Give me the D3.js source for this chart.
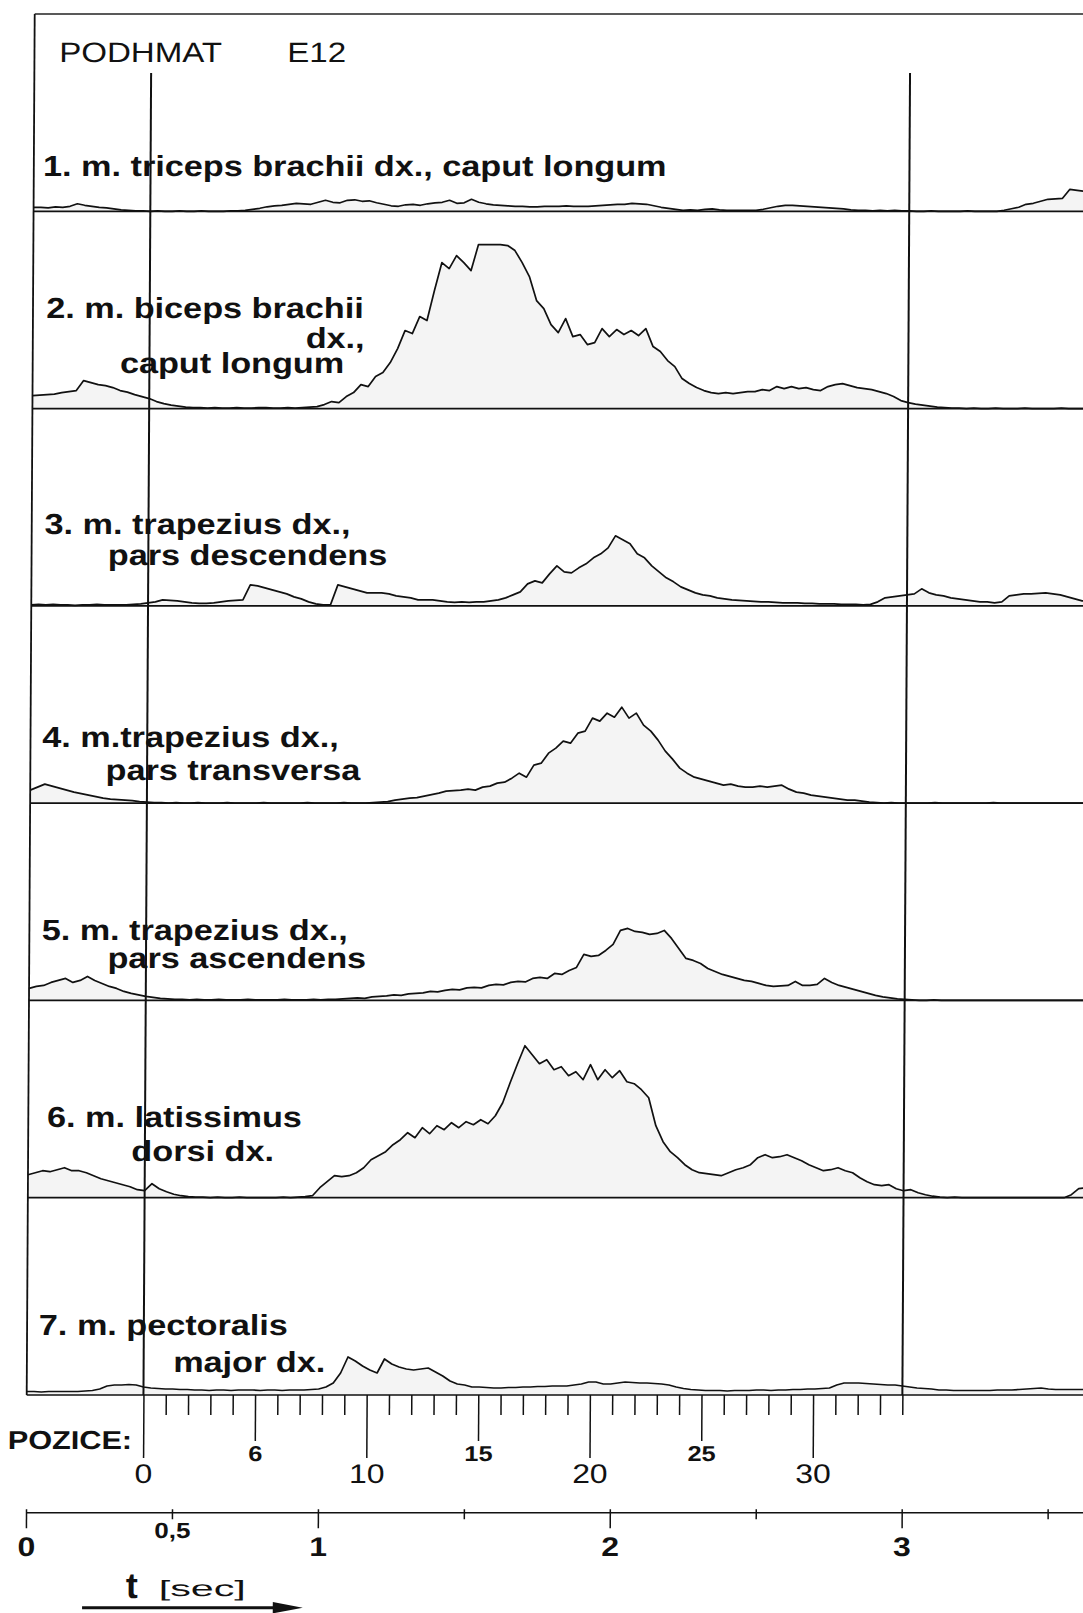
<!DOCTYPE html>
<html>
<head>
<meta charset="utf-8">
<script src="https://d3js.org/d3.v7.min.js"></script>
<style>
body { margin: 0; background: #fff; }
svg { display: block; background: #fff; }
text { font-family: "Liberation Sans", Arial, sans-serif; fill: #111; }
</style>
</head>
<body>
<div id="chart"></div>
<script>

// EMG envelopes, one value every 0.025 s starting at t = 0 (amplitude, a.u.)
var dt = 0.025;

var triceps = [4,4,3.5,4.5,4,5,7.5,6,5,4,3.5,2.5,1.5,1,0.5,0.5,
  0,0.5,0,0,0.5,0,0,0.5,0,0,0,0.5,0.5,
  1,2,3,4.5,5.5,6,7,8,7.5,7,9,11,
  9,8.5,11,11.5,10,10.5,8.5,7,5.5,5,6.5,7,6,7.5,8.5,9,11,8,8.5,12,
  9,7.5,6.5,6,5.5,5,5,4.5,4.5,5,5,5,5.5,5,5,5,5.5,6,6.5,7,
  7,8,7.5,7,5.5,4,3,2,1,1.5,1,2,2.5,1.5,1,1,1,1,1,2,
  3.5,5,6,6,5.5,5,4.5,4,3.5,3,2.5,1.5,1,1,0.5,1,0.5,1,0.5,0.5,
  0,0,0.5,0,0,0,0,0.5,0,0,0,0,
  1,2.5,4,7,8,10,12,12.5,13,22,21,20,20];

var biceps = [13,13.5,14,14.5,16,17,18,28,26,24,23,21,18,16.5,14,12,10,7,5,3.5,2.5,1.5,1,
  1,0.5,1,0.5,0.5,1,0.5,0.5,1,1,0.5,0.5,1,0.5,1,1.5,2,
  4,7,6,12,16,24,22,32,36,46,60,78,75,92,88,118,146,140,153,146,138,
  164,164,164,164,163,158,146,132,108,100,84,76,90,72,74,64,66,80,72,79,
  74,78,73,80,62,57,48,42,30,25,21,18,16,15,16,15,16,17,17,19,
  18,22,20,22,20,21,19,18,22,24,25,23,21,20,19,17,15,12,8,6,4.5,3.5,2.5,1.5,1,
  0.5,0.5,0,0.5,0,0,0.5,0,0,0,0.5,0,0,0,0,0.5,0,0,0,0];

var trapDesc = [1,1.5,1,1.5,1,1,0.5,1,1,1.5,1,1,1,1,1.5,2,3,4,6,5.5,5,4,3,2.5,2.5,3,4,5,5.5,6,
  21,20,18,16,14,12,9,7,4,2,1,1,
  21,19,17,15,13,13,13,12,10,9,8,6,6,6,5,4,3.5,4,3.5,4,4,5,
  6,8,11,14,22,25,23,32,40,34,33,38,42,48,52,58,70,66,62,52,48,40,34,28,24,19,16,
  13,11,10,8,7,6,5.5,5,4.5,4,4,3.5,3,3,3,2.5,2.5,2,2,2,1.5,1.5,1.5,1,1.5,
  4,8,9,10,11,12,17,13,11,10,8,7,6,5,4,4,3,4,10,11,12,12,12.5,13,12,11,9,7,5,4];

var trapTrans = [13,16,19,17,15,13,11,9.5,8,6.5,5,4,3.5,3,2.5,1.5,1,
  0.5,0.5,0,0.5,0,0,0.5,0,0,0,0.5,0,0,0,0,0.5,0,0,0,0,0,0.5,0,0,0,0,0.5,0,0,0,0.5,1,1.5,
  3,4,5,5.5,7,8.5,10,12,12.5,13,14,13,16,17,20,21,25,30,26,38,40,50,55,62,60,70,72,85,82,90,86,96,
  85,90,78,72,63,52,44,35,30,26,24,22,20,18,19,17,16,16,17,16,17,18,14,11,10,8,7,6,5,4,3,3,2,1,
  0.5,0,0.5,0,0,0,0,0,0.5,0,0,0,0,0,0,0,0.5,0,0,0,0,0,0,0,0,0,0,0,0,0];

var trapAsc = [12,14,15,18,20,22,18,20,24,20,17,14,12,9,7,5.5,4,3,2,1.5,1,
  1,0.5,1,0.5,0.5,1,0.5,0.5,0.5,1,0.5,0.5,0.5,0.5,1,0.5,0.5,0.5,1,0.5,1,1,
  1.5,2,2.5,2,3.5,4,4.5,5.5,5,6.5,7,7.5,9,8.5,10,11,10.5,12.5,13,12.5,15,16,15.5,18,19,18.5,22,23,22,27,26,30,33,
  46,44,45,50,56,70,72,69,68,66,67,70,62,52,42,40,37,32,29,26,24,22,20,19,17,15,14,14.5,15,
  19,15,15,16,22,18,15,13,11,9,7,5,3.5,2.5,1.5,1,
  0.5,0,0,0.5,0,0,0,0,0,0,0,0,0,0,0,0,0,0,0,0,0,0,0,0,0];

var latissimus = [23,25,27,26,28,30,27,27,25,22,19,17,15,13,11,8,7,14,9,6,3.5,2,1,
  0.5,0.5,0,0.5,0,0,0.5,0,0,0,0,0,0.5,0,0.5,1,
  2,10,16,22,21,22,25,30,38,42,46,53,58,65,60,70,64,72,68,75,70,76,73,78,74,82,95,115,134,152,
  143,134,138,128,131,122,126,118,133,118,128,120,127,116,114,108,100,
  72,56,46,40,33,28,25,24,23,22,25,28,30,33,40,43,40,41,43,40,37,33,30,27,28,30,27,25,20,16,
  13,12,13,9,7,8,5,3,1.5,
  0.5,0,0.5,0,0,0,0,0,0,0,0,0,0,0,0,0,0,0,3,9,10];

var pectoralis = [3.5,3.5,3,3.5,3.5,3.5,3.5,3.5,4,4.5,6,9,10,10,10.5,10,8,7,6.5,6,6,
  5.5,5.5,5,5,4.5,5,5,4.5,5,5,5,4.5,5,5,4.5,5,5,5,5.5,6,
  8,12,22,38,34,29,25,22,36,31,28,26,25,26,27,23,19,14,11,10,
  8,8,7.5,7,7,7.5,7.5,8,8,8.5,8.5,9,9,9,10,11,13,13,11,11,
  12,13,12.5,12,12,11.5,11,10,8,6.5,5.5,5,4.5,4.5,4.5,4,4.5,4.5,4.5,5,
  5,4.5,5,5,5.5,5.5,6,6,6.5,7,10,12,12,12,11.5,11,10.5,10,10,9,
  8,7,6.5,6,5,5,4.5,4.5,4.5,4.5,4.5,4.5,5,5,5,5.5,6,6.5,7,6,5.5,5.5,5.5,5.5,5.5];

var muscles = ["triceps", "biceps", "trapDesc", "trapTrans", "trapAsc", "latissimus", "pectoralis"];
var series = [triceps, biceps, trapDesc, trapTrans, trapAsc, latissimus, pectoralis];

var muscleLabels = [
  ["1. m. triceps brachii dx., caput longum"],
  ["2. m. biceps brachii", "dx.,", "caput longum"],
  ["3. m. trapezius dx.,", "pars descendens"],
  ["4. m.trapezius dx.,", "pars transversa"],
  ["5. m. trapezius dx.,", "pars ascendens"],
  ["6. m. latissimus", "dorsi dx."],
  ["7. m. pectoralis", "major dx."]
];

// movement positions: 0..34 between 0.4 s and 3.0 s
var posStartSec = 0.4, posEndSec = 3.0, posCount = 34;
var posMarkers = [0, 34];
var posTicks = [0, 5, 10, 15, 20, 25, 30];
var posTickLabels = ["0", "6", "10", "15", "20", "25", "30"];

var timeTicks = [0, 0.5, 1, 1.5, 2, 2.5, 3, 3.5];
var timeTickLabels = ["0", "0,5", "1", "", "2", "", "3", ""];


// ---- layout ----
var width = 1083, height = 1613;
var frameTop = 14, frameBottom = 1395;
var stretch = 1.18;

// x, y, anchor for each label line
var labelLayout = [
  [[36, 175.7, "start"]],
  [[40, 318.3, "start"], [358.5, 348.3, "end"], [114, 373.3, "start"]],
  [[39.5, 534, "start"], [103, 564.5, "start"]],
  [[38.5, 747.3, "start"], [102, 780, "start"]],
  [[39, 940, "start"], [105, 968, "start"]],
  [[45.5, 1127.3, "start"], [130, 1161, "start"]],
  [[38.5, 1335, "start"], [173, 1371.7, "start"]]
];

var svg = d3.select("#chart")
  .append("svg")
  .attr("width", width)
  .attr("height", height);

// the scanned sheet leans a little: tops of the verticals are ~8px right
var g = svg.append("g")
  .attr("transform", "translate(0," + frameBottom + ") skewX(-0.332) translate(0," + (-frameBottom) + ")");

var x = d3.scaleLinear().domain([0, 3.7]).range([26.7, 1106.7]);

var pos = d3.scaleLinear()
  .domain([0, posCount])
  .range([x(posStartSec), x(posEndSec)]);

var band = d3.scaleBand().domain(muscles).range([frameTop, frameBottom]);
var bw = band.bandwidth();

var amp = d3.scaleLinear().domain([0, 197]).range([bw, bw - 197]);

var line = d3.line()
  .x(function(d, i) { return x(i * dt); })
  .y(function(d) { return amp(d); });

var area = d3.area()
  .x(function(d, i) { return x(i * dt); })
  .y0(amp(0))
  .y1(function(d) { return amp(d); });

var panels = g.selectAll(".panel")
  .data(muscles)
  .enter()
  .append("g")
  .attr("class", "panel")
  .attr("transform", function(d) { return "translate(0," + band(d) + ")"; });

panels.append("path")
  .attr("d", function(d, i) { return area(series[i]); })
  .attr("fill", "#f4f4f4");

panels.append("path")
  .attr("d", function(d, i) { return line(series[i]); })
  .attr("fill", "none")
  .attr("stroke", "#111")
  .attr("stroke-width", 1.7)
  .attr("stroke-linejoin", "round");

panels.append("line")
  .attr("x1", x(0))
  .attr("x2", x(3.7))
  .attr("y1", bw)
  .attr("y2", bw)
  .attr("stroke", "#111")
  .attr("stroke-width", 1.7);

// frame
g.append("line")
  .attr("x1", x(0)).attr("x2", x(0))
  .attr("y1", frameTop).attr("y2", frameBottom)
  .attr("stroke", "#111").attr("stroke-width", 1.8);

g.append("line")
  .attr("x1", x(0)).attr("x2", x(3.7))
  .attr("y1", frameTop).attr("y2", frameTop)
  .attr("stroke", "#222").attr("stroke-width", 1.6);

// start / end of the movement
g.selectAll(".marker")
  .data(posMarkers)
  .enter()
  .append("line")
  .attr("class", "marker")
  .attr("x1", function(d) { return pos(d); })
  .attr("x2", function(d) { return pos(d); })
  .attr("y1", 73)
  .attr("y2", frameBottom)
  .attr("stroke", "#111")
  .attr("stroke-width", 2);

// muscle labels
muscleLabels.forEach(function(lines, i) {
  lines.forEach(function(txt, j) {
    var l = labelLayout[i][j];
    g.append("text")
      .attr("transform", "translate(" + l[0] + "," + l[1] + ") scale(" + stretch + ",1)")
      .attr("text-anchor", l[2])
      .style("font-size", "29px")
      .style("font-weight", "bold")
      .text(txt);
  });
});

g.append("text")
  .attr("transform", "translate(51.5,61.7) scale(" + stretch + ",1)")
  .style("font-size", "28px")
  .text("PODHMAT");

g.append("text")
  .attr("transform", "translate(279.6,61.7) scale(" + stretch + ",1)")
  .style("font-size", "28px")
  .text("E12");

// position axis
var posAxis = d3.axisBottom(pos)
  .tickValues(d3.range(0, posCount + 1))
  .tickSizeOuter(0)
  .tickFormat(function(d) {
    var k = posTicks.indexOf(d);
    return k < 0 ? "" : posTickLabels[k];
  });

var gp = g.append("g")
  .attr("transform", "translate(0," + frameBottom + ")")
  .call(posAxis);

gp.select(".domain").remove();

gp.selectAll(".tick line")
  .attr("stroke", "#111")
  .attr("stroke-width", 1.5)
  .attr("y2", function(d) { return d % 10 === 0 ? 63 : (d % 5 === 0 ? 46 : 20); });

gp.selectAll(".tick text")
  .attr("y", null)
  .attr("dy", null)
  .attr("transform", function(d) {
    return "translate(0," + (d % 10 === 0 ? 88 : 65.5) + ") scale(" + stretch + ",1)";
  })
  .style("font-size", function(d) { return d % 10 === 0 ? "27px" : "21.5px"; })
  .style("font-weight", function(d) { return d % 10 === 0 ? "normal" : "bold"; });

g.append("text")
  .attr("transform", "translate(8,1449) scale(" + stretch + ",1)")
  .style("font-size", "26px")
  .style("font-weight", "bold")
  .text("POZICE:");

// time axis
var timeAxis = d3.axisBottom(x)
  .tickValues(timeTicks)
  .tickSizeOuter(0)
  .tickFormat(function(d, i) { return timeTickLabels[i]; });

var gt = g.append("g")
  .attr("transform", "translate(0,1512.3)")
  .call(timeAxis);

gt.select(".domain")
  .attr("stroke", "#111")
  .attr("stroke-width", 1.5);

gt.selectAll(".tick line")
  .attr("stroke", "#111")
  .attr("stroke-width", 1.5)
  .attr("y1", -3)
  .attr("y2", function(d) { return d % 1 === 0 ? 16 : 7; });

gt.selectAll(".tick text")
  .attr("y", null)
  .attr("dy", null)
  .attr("transform", function(d) {
    return "translate(0," + (d % 1 === 0 ? 43.7 : 26) + ") scale(" + stretch + ",1)";
  })
  .style("font-size", function(d) { return d % 1 === 0 ? "27px" : "22px"; })
  .style("font-weight", "bold");

g.append("text")
  .attr("x", 127)
  .attr("y", 1598)
  .style("font-size", "36px")
  .style("font-weight", "bold")
  .text("t");

g.append("text")
  .attr("x", 160)
  .attr("y", 1596)
  .attr("textLength", 87)
  .attr("lengthAdjust", "spacingAndGlyphs")
  .style("font-size", "22px")
  .text("[sec]");

g.append("line")
  .attr("x1", 83.3).attr("x2", 285)
  .attr("y1", 1607.7).attr("y2", 1607.7)
  .attr("stroke", "#111").attr("stroke-width", 3);

g.append("path")
  .attr("d", "M274,1602 L304,1607.7 L274,1613.4 Z")
  .attr("fill", "#111");

</script>
</body>
</html>
